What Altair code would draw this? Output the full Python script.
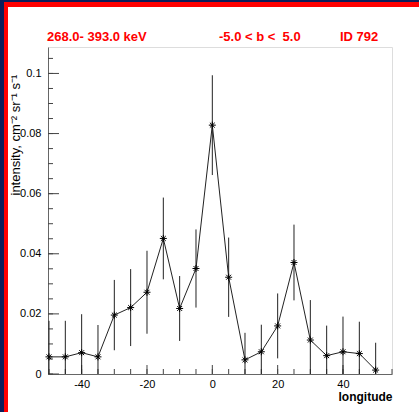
import altair as alt
import pandas as pd

# ---- data ----
longitude = [-50, -45, -40, -35, -30, -25, -20, -15, -10, -5, 0, 5,
             10, 15, 20, 25, 30, 35, 40, 45, 50]
intensity = [0.0057, 0.0057, 0.0071, 0.0057, 0.0196, 0.0221, 0.0272, 0.0451,
             0.0218, 0.0351, 0.0828, 0.0322, 0.0047, 0.0074, 0.0160, 0.0371,
             0.0113, 0.0061, 0.0074, 0.0068, 0.0013]
error = [0.0120, 0.0120, 0.0128, 0.0106, 0.0117, 0.0128, 0.0138, 0.0136,
         0.0108, 0.0130, 0.0166, 0.0132, 0.0090, 0.0090, 0.0108, 0.0126,
         0.0133, 0.0100, 0.0117, 0.0106, 0.0091]

x_label_ticks = [-40, -20, 0, 20, 40]
x_minor_ticks = [-50, -45, -40, -35, -30, -25, -20, -15, -10, -5, 0, 5,
                 10, 15, 20, 25, 30, 35, 40, 45, 50, 55]
y_label_ticks = [0, 0.02, 0.04, 0.06, 0.08, 0.1]
y_minor_ticks = [0, 0.005, 0.01, 0.015, 0.02, 0.025, 0.03, 0.035, 0.04,
                 0.045, 0.05, 0.055, 0.06, 0.065, 0.07, 0.075, 0.08, 0.085,
                 0.09, 0.095, 0.1, 0.105]

energy_text = "268.0- 393.0 keV"
lat_text = "-5.0 < b <\u00a0\u00a05.0"
id_text = "ID 792"
x_title = "longitude"
y_title = "intensity, cm\u207b\u00b2 sr\u207b\u00b9 s\u207b\u00b9"

W, H = 344, 327
FONT = "Liberation Sans"

df = pd.DataFrame({"lon": longitude, "val": intensity, "err": error})
df["lo"] = df["val"] - df["err"]
df["hi"] = df["val"] + df["err"]

xscale = alt.Scale(domain=[-50.3, 55.0], nice=False, zero=False)
yscale = alt.Scale(domain=[0, 0.1088], nice=False, zero=True)

base = alt.Chart(df)

line = base.mark_line(color="#222222", strokeWidth=1).encode(
    x=alt.X("lon:Q", scale=xscale,
            axis=alt.Axis(values=x_label_ticks, ticks=False, grid=False,
                          labelExpr="replace(datum.label, '\u2212', '-')",
                          labelFont=FONT, labelFontSize=11, labelColor="#000000",
                          labelPadding=4, domainColor="#666666",
                          title=x_title, titleFont=FONT, titleFontSize=12,
                          titleFontWeight="bold", titleColor="#000000",
                          titleX=W, titleY=26, titleAlign="right",
                          titleBaseline="alphabetic")),
    y=alt.Y("val:Q", scale=yscale,
            axis=alt.Axis(values=y_label_ticks, ticks=False, grid=False,
                          format=".2~f",
                          labelFont=FONT, labelFontSize=11, labelColor="#000000",
                          labelPadding=7, domainColor="#666666",
                          title=y_title, titleFont=FONT, titleFontSize=13,
                          titleFontWeight="normal", titleColor="#000000",
                          titleAngle=270, titleX=-29, titleY=148,
                          titleAlign="left", titleBaseline="alphabetic")),
)

bars = base.mark_rule(color="#222222", strokeWidth=1, clip=True).encode(
    x=alt.X("lon:Q", scale=xscale),
    y=alt.Y("lo:Q", scale=yscale),
    y2="hi:Q",
)

star = "M-1,0L1,0M0,-1L0,1M-0.7,-0.7L0.7,0.7M-0.7,0.7L0.7,-0.7"
points = base.mark_point(shape=star, size=49, filled=False, color="#000000",
                         strokeWidth=1, opacity=1).encode(
    x=alt.X("lon:Q", scale=xscale),
    y=alt.Y("val:Q", scale=yscale),
)

xminor = alt.Chart(pd.DataFrame({"t": x_minor_ticks})).mark_rule(
    color="#444444", strokeWidth=1).encode(
    x=alt.X("t:Q", scale=xscale),
    y=alt.value(H), y2=alt.value(H - 5))
xmajor = alt.Chart(pd.DataFrame({"t": x_label_ticks})).mark_rule(
    color="#444444", strokeWidth=1).encode(
    x=alt.X("t:Q", scale=xscale),
    y=alt.value(H), y2=alt.value(H - 9))
yminor = alt.Chart(pd.DataFrame({"t": y_minor_ticks})).mark_rule(
    color="#444444", strokeWidth=1).encode(
    y=alt.Y("t:Q", scale=yscale),
    x=alt.value(0), x2=alt.value(5))
ymajor = alt.Chart(pd.DataFrame({"t": y_label_ticks})).mark_rule(
    color="#444444", strokeWidth=1).encode(
    y=alt.Y("t:Q", scale=yscale),
    x=alt.value(0), x2=alt.value(11))

def red_text(txt, x):
    return alt.Chart(pd.DataFrame({"t": [txt]})).mark_text(
        align="left", baseline="alphabetic", font=FONT, fontSize=13,
        fontWeight="bold", color="#ff0000").encode(
        text="t:N", x=alt.value(x), y=alt.value(-6))

chart = alt.layer(
    line, xminor, xmajor, yminor, ymajor, bars, points,
    red_text(energy_text, -1), red_text(lat_text, 171), red_text(id_text, 292),
).properties(
    width=W, height=H,
    autosize=alt.AutoSizeParams(type="none"),
    padding={"left": 40, "top": 39, "right": 27, "bottom": 38},
).configure_view(stroke="#666666", strokeWidth=1).configure(background="#ffffff")

# page template: same CDN scripts as the standard one, plus the navy/red frame
TEMPLATE_SRC = """<!DOCTYPE html>
<html>
<head>
  <meta charset="UTF-8">
  <style>
    html { margin: 0; padding: 0; overflow: hidden; min-height: 100vh;
           box-sizing: border-box; background: #ffffff;
           border-top: 2px solid #0c1e5a; border-left: 4px solid #0c1e5a; }
    body { margin: 0; padding: 1px 0 0 0; overflow: hidden; min-height: 100vh;
           box-sizing: border-box; background: #ffffff;
           border-top: 5px solid #ff0000; border-left: 4px solid #ff0000; }
    #{{ output_div }}.vega-embed { width: 100%; display: flex; }
  </style>
  <script type="text/javascript" src="{{ base_url }}/vega@{{ vega_version }}"></script>
  <script type="text/javascript" src="{{ base_url }}/vega-lite@{{ vegalite_version }}"></script>
  <script type="text/javascript" src="{{ base_url }}/vega-embed@{{ vegaembed_version }}"></script>
</head>
<body>
  <div id="{{ output_div }}"></div>
  <script>
    (function(vegaEmbed) {
      var spec = {{ spec }};
      var embedOpt = {{ embed_options }};
      function showError(el, error){
        el.innerHTML = '<div style="color:red;"><p>JavaScript Error: ' + error.message + '</p></div>';
        throw error;
      }
      const el = document.getElementById('{{ output_div }}');
      vegaEmbed("#{{ output_div }}", spec, embedOpt)
        .catch(error => showError(el, error));
    })(vegaEmbed);
  </script>
</body>
</html>
"""

try:
    import jinja2
    page_template = jinja2.Template(TEMPLATE_SRC)
    chart.save("out.html", embed_options={"renderer": "svg", "actions": False},
               template=page_template)
except Exception:
    chart.save("out.html", embed_options={"renderer": "svg", "actions": False})
